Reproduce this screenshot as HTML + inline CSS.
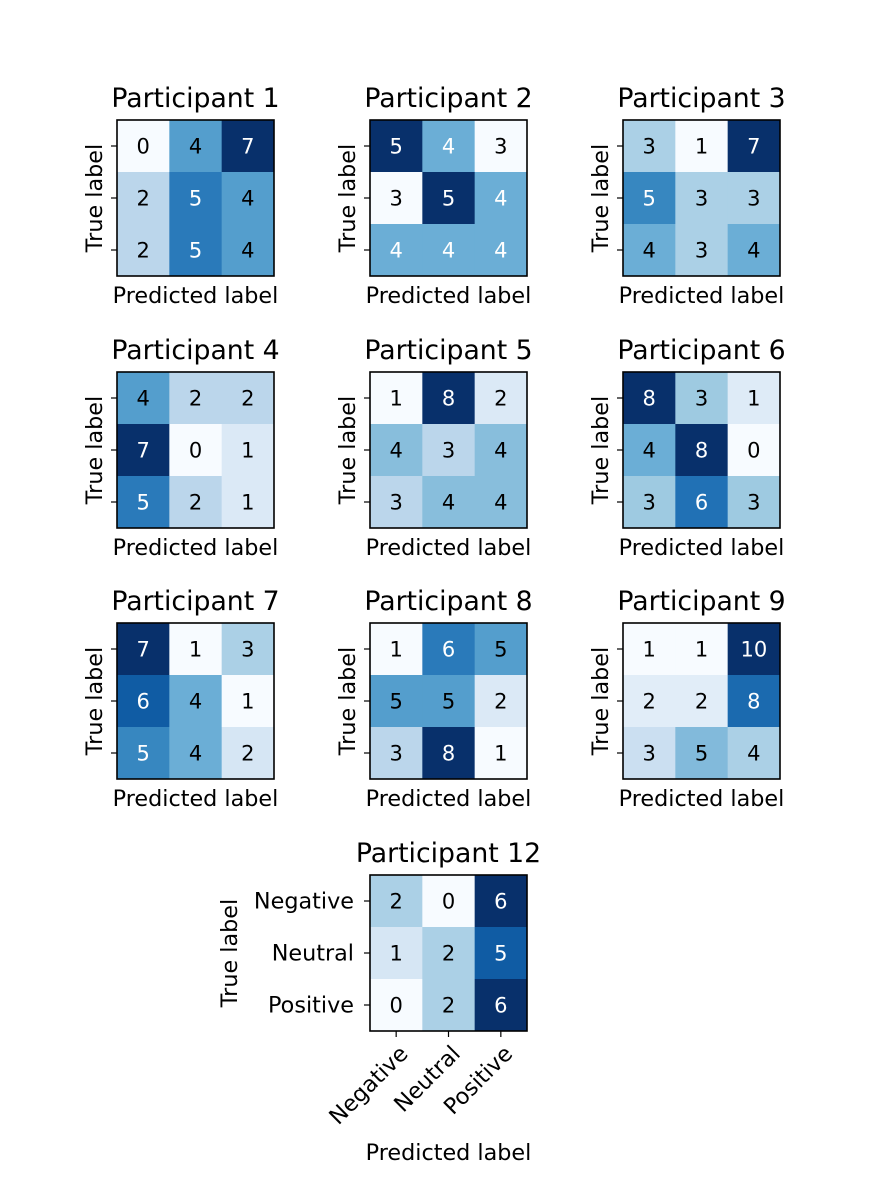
<!DOCTYPE html>
<html><head><meta charset="utf-8"><style>
html,body{margin:0;padding:0;background:#fff;}
svg{display:block;font-family:"DejaVu Sans","Liberation Sans",sans-serif;}
</style></head><body>
<svg id="chart" width="880" height="1200" viewBox="0 0 880 1200" xmlns="http://www.w3.org/2000/svg"></svg>
<script>
const titles = ["Participant 1","Participant 2","Participant 3","Participant 4","Participant 5","Participant 6","Participant 7","Participant 8","Participant 9","Participant 12"];
const m1 = [[0,4,7],[2,5,4],[2,5,4]];
const m2 = [[5,4,3],[3,5,4],[4,4,4]];
const m3 = [[3,1,7],[5,3,3],[4,3,4]];
const m4 = [[4,2,2],[7,0,1],[5,2,1]];
const m5 = [[1,8,2],[4,3,4],[3,4,4]];
const m6 = [[8,3,1],[4,8,0],[3,6,3]];
const m7 = [[7,1,3],[6,4,1],[5,4,2]];
const m8 = [[1,6,5],[5,5,2],[3,8,1]];
const m9 = [[1,1,10],[2,2,8],[3,5,4]];
const m12 = [[2,0,6],[1,2,5],[0,2,6]];
const matrices = [m1,m2,m3,m4,m5,m6,m7,m8,m9,m12];
const classes = ["Negative","Neutral","Positive"];

const NS = "http://www.w3.org/2000/svg";
const svg = document.getElementById("chart");
const stops = ["#f7fbff","#deebf7","#c6dbef","#9ecae1","#6baed6","#4292c6","#2171b5","#08519c","#08306b"];
function hex(h){return [1,3,5].map(i=>parseInt(h.substr(i,2),16));}
function blues(t){
  t=Math.max(0,Math.min(1,t));
  const p=t*(stops.length-1), i=Math.min(Math.floor(p),stops.length-2), f=p-i;
  const a=hex(stops[i]), b=hex(stops[i+1]);
  return "rgb("+a.map((v,k)=>Math.round(v+(b[k]-v)*f)).join(",")+")";
}
function el(tag, attrs, text){
  const e=document.createElementNS(NS,tag);
  for(const k in attrs) e.setAttribute(k,attrs[k]);
  if(text!==undefined) e.textContent=text;
  return e;
}
const W=157, H=156;
const colX=[117,370,623];
const rowY=[120,372,623,875];

matrices.forEach((m,idx)=>{
  const last = idx===9;
  const x0 = last ? 370 : colX[idx%3];
  const y0 = last ? 875 : rowY[Math.floor(idx/3)];
  const g=el("g",{});
  
  
  svg.appendChild(g);
  const flat=m.flat(), mn=Math.min(...flat), mx=Math.max(...flat);
  const cw=W/3, ch=H/3;
  const xs=j=>x0+j*cw, ys=i=>y0+i*ch;
  for(let i=0;i<3;i++)for(let j=0;j<3;j++){
    const v=m[i][j];
    const r=el("rect",{x:xs(j),y:ys(i),width:cw+0.5,height:ch+0.5,fill:blues((v-mn)/(mx-mn))});
    
    
    g.appendChild(r);
    const t=el("text",{x:xs(j)+cw/2,y:ys(i)+ch/2+7.5,"text-anchor":"middle","font-size":"21",fill:(v/mx>0.66)?"#fff":"#000"},String(v));
    
    
    g.appendChild(t);
  }
  const b=el("rect",{x:x0,y:y0,width:W,height:H,fill:"none",stroke:"#000","stroke-width":"1.6"});
  
  
  g.appendChild(b);
  for(let i=0;i<3;i++){
    g.appendChild(el("line",{x1:x0-6,x2:x0,y1:ys(i)+ch/2,y2:ys(i)+ch/2,stroke:"#000","stroke-width":"1.2"}));
  }
  const tt=el("text",{x:x0+W/2,y:y0-13,"text-anchor":"middle","font-size":"26.7"},titles[idx]);
  
  
  g.appendChild(tt);
  if(!last){
    const yl=el("text",{x:0,y:0,"text-anchor":"middle","font-size":"22.3",transform:`translate(${x0-15},${y0+H/2}) rotate(-90)`},"True label");
    
    
    g.appendChild(yl);
    const xl=el("text",{x:x0+W/2,y:y0+H+27,"text-anchor":"middle","font-size":"22.3"},"Predicted label");
    
    
    g.appendChild(xl);
  } else {
    classes.forEach((c,i)=>{
      const yt=el("text",{x:x0-16,y:ys(i)+ch/2+7.5,"text-anchor":"end","font-size":"22.3"},c);
      
      
      g.appendChild(yt);
      const cx=xs(i)+cw/2;
      g.appendChild(el("line",{x1:cx,x2:cx,y1:y0+H,y2:y0+H+6,stroke:"#000","stroke-width":"1.2"}));
      const xt=el("text",{x:0,y:0,"text-anchor":"end","font-size":"22.3",transform:`translate(${cx+13},${y0+H+24}) rotate(-45)`},c);
      
      
      g.appendChild(xt);
    });
    const yl=el("text",{x:0,y:0,"text-anchor":"middle","font-size":"22.3",transform:`translate(${x0-133},${y0+H/2}) rotate(-90)`},"True label");
    
    
    g.appendChild(yl);
    const xl=el("text",{x:x0+W/2,y:1160,"text-anchor":"middle","font-size":"22.3"},"Predicted label");
    
    
    g.appendChild(xl);
  }
});
</script>
</body></html>
